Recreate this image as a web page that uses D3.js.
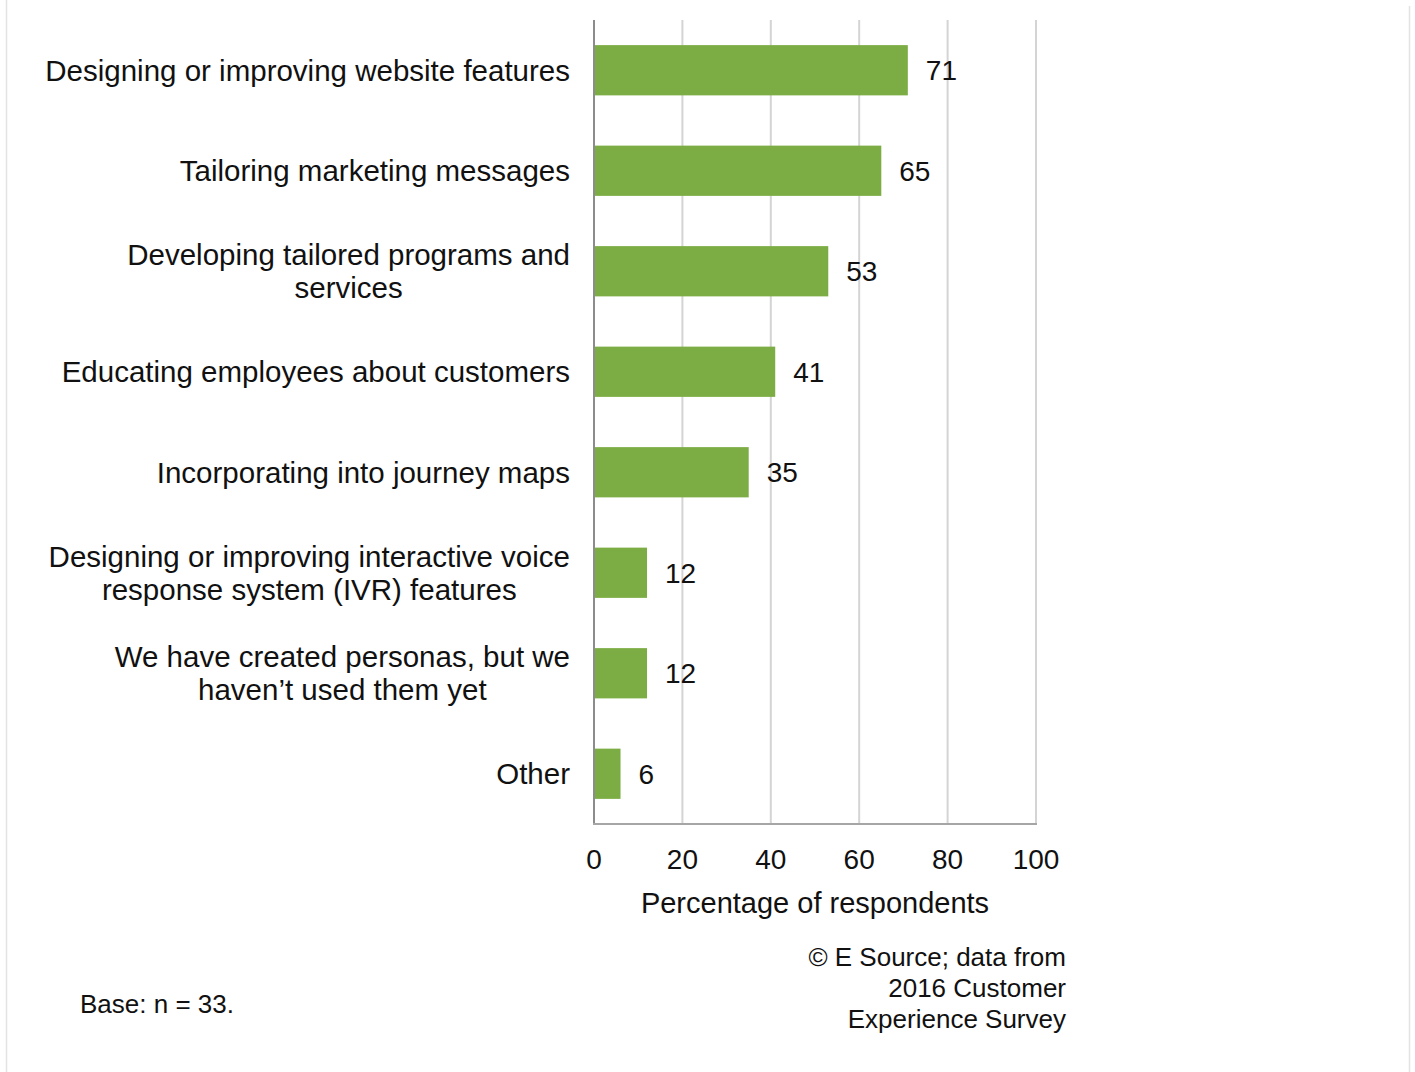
<!DOCTYPE html>
<html>
<head>
<meta charset="utf-8">
<script src="https://cdn.jsdelivr.net/npm/d3@7"></script>
<style>
    html, body { margin: 0; padding: 0; background: #fff; }
    svg { display: block; font-family: "Liberation Sans", Arial, sans-serif; }
</style>
</head>
<body>
<svg id="chart" width="1415" height="1072"></svg>
<script>
// chart data
const categories = [
    ["Designing or improving website features"],
    ["Tailoring marketing messages"],
    ["Developing tailored programs and", "services"],
    ["Educating employees about customers"],
    ["Incorporating into journey maps"],
    ["Designing or improving interactive voice", "response system (IVR) features"],
    ["We have created personas, but we", "haven\u2019t used them yet"],
    ["Other"]
];
const values = [71, 65, 53, 41, 35, 12, 12, 6];
const xTicks = [0, 20, 40, 60, 80, 100];
const axisTitle = "Percentage of respondents";
const sourceLines = ["\u00A9 E Source; data from", "2016 Customer", "Experience Survey"];
const baseNote = "Base: n = 33.";

const svg = d3.select('#chart');
const textColor = '#111';

const plot = { left: 594, right: 1036, top: 20, bottom: 824 };
const labelRight = 570;

const x = d3.scaleLinear().domain([0, 100]).range([plot.left, plot.right]);
const y = d3.scaleBand()
    .domain(d3.range(categories.length))
    .range([plot.top, plot.bottom])
    .paddingInner(0.5)
    .paddingOuter(0.25);

// outer frame lines (light)
svg.append('line')
    .attr('x1', 6.5).attr('x2', 6.5).attr('y1', 0).attr('y2', 1072)
    .attr('stroke', '#e3e3e3').attr('stroke-width', 1.5);
svg.append('line')
    .attr('x1', 1409.5).attr('x2', 1409.5).attr('y1', 6).attr('y2', 1072)
    .attr('stroke', '#e3e3e3').attr('stroke-width', 1.5);

// gridlines
svg.append('g')
    .selectAll('line')
    .data(xTicks.filter(d => d > 0))
    .join('line')
    .attr('x1', d => x(d)).attr('x2', d => x(d))
    .attr('y1', plot.top).attr('y2', plot.bottom)
    .attr('stroke', '#d4d4d4')
    .attr('stroke-width', 2);

// bars
svg.append('g')
    .selectAll('rect')
    .data(values)
    .join('rect')
    .attr('x', x(0))
    .attr('y', (d, i) => y(i))
    .attr('width', d => x(d) - x(0))
    .attr('height', y.bandwidth())
    .attr('fill', '#7bad44');

// axis lines
svg.append('line')
    .attr('x1', x(0)).attr('x2', x(0))
    .attr('y1', plot.top).attr('y2', plot.bottom)
    .attr('stroke', '#8c8c8c').attr('stroke-width', 2);
svg.append('line')
    .attr('x1', x(0) - 1).attr('x2', x(100) + 1)
    .attr('y1', plot.bottom).attr('y2', plot.bottom)
    .attr('stroke', '#a6a6a6').attr('stroke-width', 2);

// value labels
svg.append('g')
    .selectAll('text')
    .data(values)
    .join('text')
    .attr('x', d => x(d) + 18)
    .attr('y', (d, i) => y(i) + y.bandwidth() / 2)
    .attr('dy', '0.35em')
    .attr('font-size', 28)
    .attr('fill', textColor)
    .text(d => d);

// x tick labels
svg.append('g')
    .selectAll('text')
    .data(xTicks)
    .join('text')
    .attr('x', d => x(d))
    .attr('y', 859)
    .attr('dy', '0.35em')
    .attr('text-anchor', 'middle')
    .attr('font-size', 28)
    .attr('fill', textColor)
    .text(d => d);

svg.append('text')
    .attr('x', (plot.left + plot.right) / 2)
    .attr('y', 903)
    .attr('dy', '0.35em')
    .attr('text-anchor', 'middle')
    .attr('font-size', 29)
    .attr('fill', textColor)
    .text(axisTitle);

// category labels: block right-aligned, lines centered within the block
const lineGap = 33;
categories.forEach((lines, i) => {
    const cy = y(i) + y.bandwidth() / 2;
    const g = svg.append('g');
    const texts = g.selectAll('text')
        .data(lines)
        .join('text')
        .attr('y', (d, j) => cy + (j - (lines.length - 1) / 2) * lineGap)
        .attr('dy', '0.35em')
        .attr('text-anchor', 'middle')
        .attr('font-size', 29.5)
        .attr('fill', textColor)
        .text(d => d);
    let maxW = 0;
    texts.each(function () { maxW = Math.max(maxW, this.getComputedTextLength()); });
    texts.attr('x', labelRight - maxW / 2);
});

// source note
svg.append('g')
    .selectAll('text')
    .data(sourceLines)
    .join('text')
    .attr('x', 1066)
    .attr('y', (d, i) => 957 + i * 31)
    .attr('dy', '0.35em')
    .attr('text-anchor', 'end')
    .attr('font-size', 26)
    .attr('fill', textColor)
    .text(d => d);

svg.append('text')
    .attr('x', 80)
    .attr('y', 1004)
    .attr('dy', '0.35em')
    .attr('font-size', 26)
    .attr('fill', textColor)
    .text(baseNote);
</script>
</body>
</html>
